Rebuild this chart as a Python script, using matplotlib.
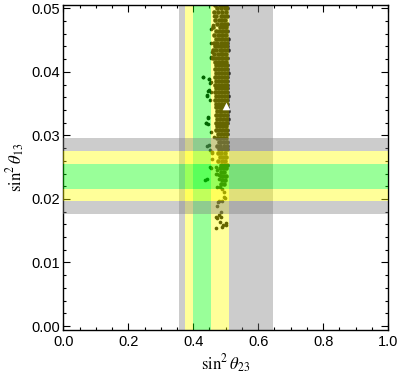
import matplotlib
matplotlib.use("Agg")
import matplotlib.pyplot as plt
from matplotlib.ticker import MultipleLocator, FormatStrFormatter

plt.rcParams.update({
    "font.family": ["Liberation Sans", "DejaVu Sans"],
    "mathtext.fontset": "stix",
    "font.size": 10.5,
})

# 1/2/3 sigma ranges (vertical: sin^2 theta23, horizontal: sin^2 theta13)
V_GRAY = [(0.357, 0.376), (0.509, 0.645)]
V_YELLOW = [(0.376, 0.398), (0.456, 0.509)]
V_GREEN = [(0.398, 0.456)]
H_GRAY = [(0.0177, 0.0197), (0.0275, 0.0296)]
H_YELLOW = [(0.0197, 0.0215), (0.0255, 0.0275)]
H_GREEN = [(0.0215, 0.0255)]

# dense part of the scan, row by row (y, xs)
CORE_Y = [0.0505, 0.0500, 0.0494, 0.0488, 0.0482, 0.0476, 0.0470, 0.0464,
          0.0458, 0.0452, 0.0446, 0.0440, 0.0434, 0.0428, 0.0422, 0.0416,
          0.0410, 0.0404, 0.0398, 0.0392, 0.0386, 0.0380, 0.0374, 0.0368,
          0.0362, 0.0356, 0.0350, 0.0344, 0.0338, 0.0332, 0.0326, 0.0320,
          0.0314, 0.0308, 0.0302, 0.0296, 0.0290, 0.0284, 0.0278, 0.0272,
          0.0266, 0.0260, 0.0254, 0.0248, 0.0242, 0.0236, 0.0230, 0.0224]
CORE_X = [
    [0.466, 0.481, 0.492, 0.500],
    [0.472, 0.487, 0.497, 0.504],
    [0.463, 0.477, 0.490, 0.501],
    [0.470, 0.484, 0.495, 0.505],
    [0.466, 0.479, 0.489, 0.499],
    [0.474, 0.486, 0.494, 0.503],
    [0.462, 0.481, 0.491, 0.500],
    [0.469, 0.478, 0.488, 0.497, 0.505],
    [0.465, 0.475, 0.484, 0.493, 0.502],
    [0.470, 0.480, 0.490, 0.499, 0.506],
    [0.463, 0.474, 0.485, 0.494, 0.503],
    [0.467, 0.477, 0.487, 0.496, 0.505],
    [0.461, 0.471, 0.481, 0.490, 0.499, 0.506],
    [0.465, 0.475, 0.484, 0.493, 0.502],
    [0.460, 0.470, 0.479, 0.488, 0.497, 0.505],
    [0.466, 0.475, 0.484, 0.493, 0.502],
    [0.470, 0.479, 0.488, 0.497, 0.505],
    [0.467, 0.476, 0.485, 0.494, 0.503],
    [0.470, 0.480, 0.489, 0.498, 0.506],
    [0.466, 0.476, 0.485, 0.494, 0.503],
    [0.469, 0.479, 0.488, 0.497, 0.505],
    [0.467, 0.477, 0.486, 0.495, 0.503],
    [0.470, 0.479, 0.488, 0.497, 0.505],
    [0.467, 0.476, 0.485, 0.494, 0.503],
    [0.471, 0.480, 0.489, 0.498, 0.506],
    [0.468, 0.477, 0.486, 0.495, 0.503],
    [0.471, 0.480, 0.489, 0.498, 0.505],
    [0.469, 0.478, 0.487, 0.496, 0.504],
    [0.472, 0.481, 0.490, 0.499, 0.506],
    [0.469, 0.478, 0.487, 0.496, 0.504],
    [0.473, 0.482, 0.491, 0.500, 0.506],
    [0.470, 0.479, 0.488, 0.497, 0.505],
    [0.474, 0.483, 0.492, 0.501],
    [0.471, 0.480, 0.489, 0.498, 0.505],
    [0.476, 0.485, 0.494, 0.503],
    [0.474, 0.483, 0.492, 0.501],
    [0.478, 0.487, 0.496, 0.504],
    [0.472, 0.483, 0.494, 0.503],
    [0.478, 0.489, 0.499, 0.505],
    [0.475, 0.486, 0.497],
    [0.481, 0.492, 0.502],
    [0.477, 0.488, 0.499],
    [0.484, 0.494, 0.503],
    [0.482, 0.491, 0.500],
    [0.486, 0.496],
    [0.484, 0.493, 0.501],
    [0.488, 0.497],
    [0.486, 0.494],
]

# loose points around the core
LOOSE_X = [0.4536, 0.4556, 0.4535, 0.431, 0.449, 0.4556, 0.446, 0.441, 0.451,
           0.445, 0.438, 0.430, 0.448, 0.452, 0.448, 0.443, 0.4556, 0.4535,
           0.446, 0.438, 0.446, 0.4535, 0.448, 0.4565, 0.4535, 0.441, 0.4505,
           0.4585, 0.4565, 0.4505, 0.441, 0.436, 0.474, 0.479, 0.482, 0.489,
           0.4945, 0.4945, 0.489, 0.479, 0.474, 0.471, 0.474, 0.471, 0.479,
           0.474, 0.4977, 0.477, 0.479, 0.474, 0.4845, 0.500, 0.471, 0.4875,
           0.4925, 0.500, 0.482, 0.469, 0.484, 0.463, 0.459, 0.461, 0.464]
LOOSE_Y = [0.0467, 0.0446, 0.0424, 0.0392, 0.0389, 0.0384, 0.0370, 0.0362, 0.0356,
           0.0329, 0.0319, 0.0392, 0.0389, 0.0383, 0.0371, 0.0364, 0.0368, 0.0422,
           0.0328, 0.0320, 0.0318, 0.0306, 0.0285, 0.0274, 0.0248, 0.0284, 0.0277,
           0.0272, 0.0263, 0.0250, 0.0231, 0.0230, 0.0240, 0.0232, 0.0219, 0.0215,
           0.0211, 0.0203, 0.0196, 0.0196, 0.0189, 0.0251, 0.0246, 0.0240, 0.0238,
           0.0219, 0.0201, 0.0195, 0.0174, 0.0170, 0.0171, 0.0162, 0.0155, 0.0156,
           0.0159, 0.0159, 0.0164, 0.0172, 0.0180, 0.0298, 0.0432, 0.0474, 0.0488]

BEST_FIT = (0.500, 0.0347)


def main():
    fig = plt.figure(figsize=(4.0, 3.78), dpi=100)
    ax = fig.add_axes([63.4 / 400, 1 - 329.5 / 378, (388 - 63.4) / 400, (329.5 - 4.5) / 378])

    cx, cy = [], []
    for y, row in zip(CORE_Y, CORE_X):
        cx += row
        cy += [y] * len(row)
    ax.scatter(cx, cy, s=11, c="black", linewidths=0, zorder=1)
    ax.scatter(LOOSE_X, LOOSE_Y, s=7, c="black", linewidths=0, zorder=1)

    for spans, col in ((V_GRAY, "#808080"), (V_YELLOW, "#ffff00"), (V_GREEN, "#00ff00")):
        for a, b in spans:
            ax.axvspan(a, b, color=col, alpha=0.4, lw=0, zorder=2)
    for spans, col in ((H_GRAY, "#808080"), (H_YELLOW, "#ffff00"), (H_GREEN, "#00ff00")):
        for a, b in spans:
            ax.axhspan(a, b, color=col, alpha=0.4, lw=0, zorder=3)

    ax.scatter([BEST_FIT[0]], [BEST_FIT[1]], marker="^", s=30, c="white",
               linewidths=0, zorder=5)

    ax.set_xlim(0, 1)
    ax.set_ylim(-0.00055, 0.0506)
    ax.xaxis.set_major_locator(MultipleLocator(0.2))
    ax.xaxis.set_minor_locator(MultipleLocator(0.05))
    ax.yaxis.set_major_locator(MultipleLocator(0.01))
    ax.yaxis.set_minor_locator(MultipleLocator(0.002))
    ax.xaxis.set_major_formatter(FormatStrFormatter("%.1f"))
    ax.yaxis.set_major_formatter(FormatStrFormatter("%.2f"))
    ax.tick_params(which="both", direction="in", top=True, right=True, width=0.8)
    ax.tick_params(which="major", length=5, pad=4)
    ax.tick_params(which="minor", length=2.5)
    ax.tick_params(axis="y", which="major", pad=2.5)
    for sp in ax.spines.values():
        sp.set_linewidth(1.0)

    fig.text(225.7 / 400, 1 - 364 / 378, r"$\mathrm{sin}^2\,\theta_{23}$",
             ha="center", va="center", fontsize=12)
    fig.text(16 / 400, 1 - 167 / 378, r"$\mathrm{sin}^2\,\theta_{13}$",
             ha="center", va="center", rotation=90, fontsize=12)

    fig.savefig("out.png", dpi=100)


if __name__ == "__main__":
    main()
